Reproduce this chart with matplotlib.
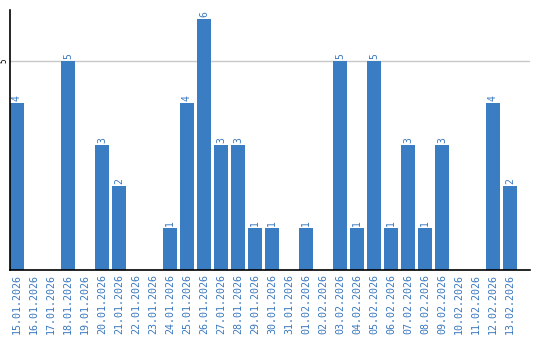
import matplotlib
matplotlib.use("Agg")
import matplotlib.pyplot as plt

dates = ["15.01.2026", "16.01.2026", "17.01.2026", "18.01.2026", "19.01.2026",
         "20.01.2026", "21.01.2026", "22.01.2026", "23.01.2026", "24.01.2026",
         "25.01.2026", "26.01.2026", "27.01.2026", "28.01.2026", "29.01.2026",
         "30.01.2026", "31.01.2026", "01.02.2026", "02.02.2026", "03.02.2026",
         "04.02.2026", "05.02.2026", "06.02.2026", "07.02.2026", "08.02.2026",
         "09.02.2026", "10.02.2026", "11.02.2026", "12.02.2026", "13.02.2026"]
values = [4, 0, 0, 5, 0, 3, 2, 0, 0, 1, 4, 6, 3, 3, 1, 1, 0, 1, 0, 5,
          1, 5, 1, 3, 1, 3, 0, 0, 4, 2]

bar_color = "#3b7dc3"
text_color = "#3a78be"
mono = "DejaVu Sans Mono"

fig = plt.figure(figsize=(5.4, 3.4), dpi=100)
ax = fig.add_axes([10/540, 70/340, 520/540, 260/340])

w = 0.82
xs = list(range(len(dates)))
ax.bar(xs, values, width=w, align="edge", color=bar_color, zorder=2)
for x, v in zip(xs, values):
    if v > 0:
        ax.text(x + w/2, v + 0.05, str(v), rotation=90, ha="center", va="bottom",
                color=text_color, fontsize=7, family=mono)

ax.set_xlim(0, 520/17)
ax.set_ylim(0, 260/41.8)
ax.axhline(5, color="#c8c8c8", lw=1, zorder=1)

ax.set_xticks([x + w/2 for x in xs])
ax.set_xticklabels(dates, rotation=90, color=text_color, fontsize=7.2, family=mono)
ax.set_yticks([5])
ax.set_yticklabels(["5"], rotation=90, va="center", fontsize=5.5, family=mono)
ax.tick_params(axis="both", length=0, pad=3)
ax.tick_params(axis="y", pad=1)

for s in ["top", "right"]:
    ax.spines[s].set_visible(False)
ax.spines["left"].set_color("black")
ax.spines["bottom"].set_color("black")
ax.spines["left"].set_linewidth(1.2)
ax.spines["bottom"].set_linewidth(1.2)

fig.savefig("out.png", dpi=100)
